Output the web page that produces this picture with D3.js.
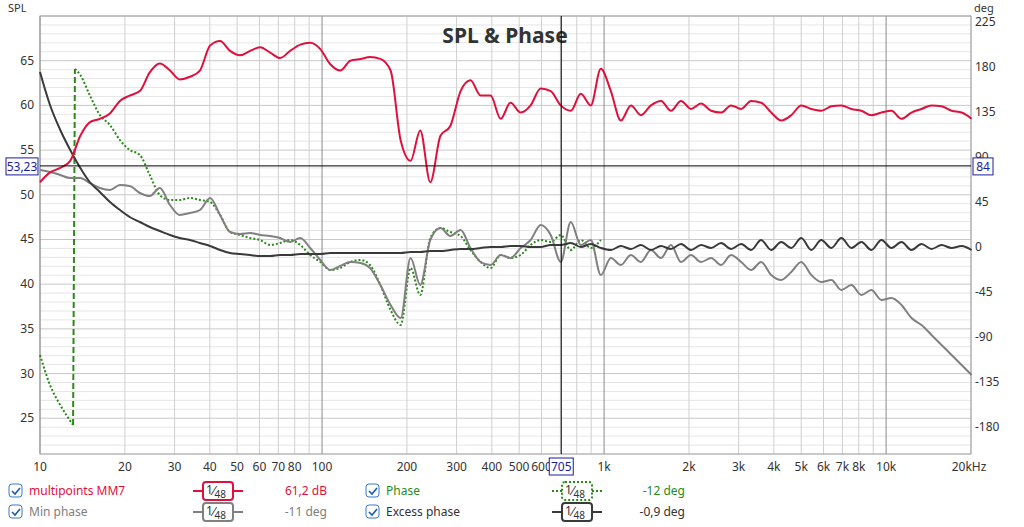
<!DOCTYPE html>
<html lang="en">
<head>
  <meta charset="UTF-8">
  <title>SPL & Phase</title>
  <style>
    body { margin: 0; background: #fff; }
    svg { font-family: "Noto Sans", "DejaVu Sans", sans-serif; }
  </style>
</head>
<body>
  <svg id="chart" width="1024" height="527"></svg>
  <script src="https://d3js.org/d3.v7.min.js"></script>
  <script>
    // Frequencies (Hz) of the sampled points
    const freqs = [10,10.85,11.8,12.8,13.9,15.0,16.3,17.7,19.2,20.8,
      22.6,24.5,26.6,28.9,31.3,34.0,36.9,40.1,43.5,47.2,
      51.2,55.6,60.3,65.5,71.0,77.1,83.7,90.8,98.6,107,
      116,126,137,148,161,175,190,206,223,242,
      263,285,310,336,365,396,430,466,506,549,
      596,647,702,762,827,897,974,1057,1147,1245,
      1351,1466,1591,1727,1874,2034,2207,2396,2600,2821,
      3062,3323,3606,3914,4247,4610,5002,5430,5892,6394,
      6940,7531,8173,8870,9626,10447,11337,12303,13352,14490,
      15725,17065,18520,20098];

    // SPL, dB (multipoints MM7)
    const spl = [51.4,52.5,53.0,53.8,56.6,58.1,58.5,59.1,60.5,61.1,
      61.6,63.7,64.7,63.9,62.9,63.2,63.9,66.7,67.2,66.1,
      65.6,66.1,66.5,65.9,65.3,66.1,66.8,67.0,66.3,64.6,
      63.9,65.0,65.2,65.4,65.2,63.9,56.1,53.8,57.2,51.4,
      56.6,57.7,61.6,62.8,61.1,61.1,58.5,60.3,59.2,60.0,
      61.9,61.6,60.0,59.4,61.3,60.0,64.1,61.6,58.3,60.0,
      58.9,60.0,60.5,59.4,60.5,59.6,60.2,59.4,59.2,60.0,
      59.6,60.5,60.3,59.2,58.3,58.9,60.0,59.6,59.4,59.9,
      60.0,59.6,59.4,58.9,59.2,59.4,58.5,59.2,59.6,60.0,
      59.9,59.4,59.2,58.5];

    // Min phase, deg
    const minPhase = [77,75,72,69,69,64,59,57,62,61,
      54,51,59,42,32,34,37,49,32,15,
      13,14,12,11,9,5,9,-1,-13,-23,
      -19,-15,-16,-21,-38,-58,-71,-11,-38,7,
      19,11,17,-1,-15,-18,-8,-11,-1,7,
      22,12,-15,25,2,7,-28,-11,-18,-8,
      -15,-3,-11,2,-15,-8,-15,-11,-18,-8,
      -15,-23,-15,-28,-33,-25,-15,-28,-35,-33,
      -43,-38,-48,-43,-53,-51,-58,-71,-78,-88,
      -98,-108,-118,-128];

    // Excess phase, deg
    const excessPhase = [175,142,117,97,79,65,55,45,37,30,
      25,20,16,12,9,7,4,1,-3,-6,
      -7,-8,-9,-9,-8,-8,-7,-7,-7,-6,
      -6,-6,-6,-6,-6,-6,-6,-5,-5,-4,
      -4,-3,-2,-2,-1,0,0,1,1,0,
      0,2,2,4,0,3,-1,-3,1,-2,
      2,-3,1,-2,3,-3,2,-1,4,-2,
      3,-3,7,-3,5,-1,9,-3,7,-1,
      9,-1,5,-3,7,-1,5,-3,3,-2,
      2,-1,1,-3];

    // Phase, deg: part below the wrap and part above it
    const phaseLowF = [10,10.85,11.8,13.1];
    const phaseLow = [-108,-138,-158,-178];
    const phaseHighF = [13.3].concat(freqs.slice(4, 57));
    const phaseHigh = [178,172,152,132,122,107,97,92,72,52,
      47,47,49,47,45,32,15,12,9,7,
      2,4,7,2,-8,-15,-23,-21,-15,-13,
      -18,-38,-63,-78,-21,-48,9,19,15,11,
      -3,-15,-21,-8,-11,-8,2,7,5,12,
      -3,7,-1,7];

    const xTicks = [10,20,30,40,50,60,70,80,100,200,300,400,500,600,1000,2000,3000,4000,5000,6000,7000,8000,10000];
    const xTickText = ["10","20","30","40","50","60","70","80","100","200","300","400","500","600","1k","2k","3k","4k","5k","6k","7k","8k","10k"];
    const splTicks = [25,30,35,40,45,50,55,60,65];
    const degTicks = [-180,-135,-90,-45,0,45,90,135,180,225];
    const cursor = { f: 705, spl: 53.23, splText: "53,23", deg: "84", fText: "705" };

    const legend = [
      { name: "multipoints MM7", color: "#e0103c", text: "#e0103c", value: "61,2 dB", dash: null, col: 0, row: 0 },
      { name: "Phase", color: "#2a8a18", text: "#2a8a18", value: "-12 deg", dash: "2,2", col: 1, row: 0 },
      { name: "Min phase", color: "#808080", text: "#808080", value: "-11 deg", dash: null, col: 0, row: 1 },
      { name: "Excess phase", color: "#3a3a3a", text: "#333", value: "-0,9 deg", dash: null, col: 1, row: 1 }
    ];

    const L = 40, R = 971, T = 16, B = 454;
    const svg = d3.select("#chart");
    const x = d3.scaleLog().domain([10, 20000]).range([L, R]);
    const y = d3.scaleLinear().domain([21, 70]).range([B, T]);
    const yd = d3.scaleLinear().domain([-180, 225]).range([427, 22]);

    // Grid
    const g = svg.append("g");
    d3.range(21, 71).forEach(v => {
      g.append("line").attr("x1", L).attr("x2", R).attr("y1", y(v)).attr("y2", y(v))
        .attr("stroke", v % 5 === 0 ? "#c8c8c8" : "#e6e6e6").attr("stroke-width", 1);
    });
    [10, 100, 1000, 10000].forEach(d => {
      d3.range(1, 10).forEach(m => {
        const f = d * m;
        if (f > 20000) return;
        g.append("line").attr("x1", x(f)).attr("x2", x(f)).attr("y1", T).attr("y2", B)
          .attr("stroke", m === 1 ? "#8a8a8a" : "#cfcfcf").attr("stroke-width", 1);
      });
    });
    g.append("rect").attr("x", L).attr("y", T).attr("width", R - L).attr("height", B - T)
      .attr("fill", "none").attr("stroke", "#a0a0a0");

    // Axis labels
    splTicks.forEach(v => {
      svg.append("text").attr("x", 34).attr("y", y(v) + 4).attr("text-anchor", "end")
        .attr("font-size", 12).attr("fill", "#333").text(v);
    });
    degTicks.forEach(v => {
      svg.append("text").attr("x", 975).attr("y", yd(v) + 4)
        .attr("font-size", 12).attr("fill", "#333").text(v);
    });
    xTicks.forEach((v, i) => {
      svg.append("text").attr("x", x(v)).attr("y", 471).attr("text-anchor", "middle")
        .attr("font-size", 12).attr("fill", "#333").text(xTickText[i]);
    });
    svg.append("text").attr("x", x(20000) - 2).attr("y", 471).attr("text-anchor", "middle")
      .attr("font-size", 12).attr("fill", "#333").text("20kHz");
    svg.append("text").attr("x", 8).attr("y", 12).attr("font-size", 11).attr("fill", "#333").text("SPL");
    svg.append("text").attr("x", 974).attr("y", 12).attr("font-size", 11).attr("fill", "#333").text("deg");
    svg.append("text").attr("x", 505).attr("y", 43).attr("text-anchor", "middle")
      .attr("font-size", 21).attr("font-weight", "bold").attr("fill", "#333").text("SPL & Phase");

    // Curves
    const lineDeg = d3.line().x(d => x(d[0])).y(d => yd(d[1])).curve(d3.curveMonotoneX);
    const lineSpl = d3.line().x(d => x(d[0])).y(d => y(d[1])).curve(d3.curveMonotoneX);
    const zip = (fs, vs) => vs.map((v, i) => [fs[i], v]);
    const plot = svg.append("g").attr("fill", "none").attr("stroke-linejoin", "round");

    plot.append("path").attr("d", lineDeg(zip(phaseLowF, phaseLow)))
      .attr("stroke", "#2a8a18").attr("stroke-width", 2).attr("stroke-dasharray", "2,2");
    plot.append("path").attr("d", lineDeg(zip(phaseHighF, phaseHigh)))
      .attr("stroke", "#2a8a18").attr("stroke-width", 2).attr("stroke-dasharray", "2,2");
    plot.append("line")
      .attr("x1", x(phaseLowF[3])).attr("y1", yd(phaseLow[3]))
      .attr("x2", x(phaseHighF[0])).attr("y2", yd(phaseHigh[0]))
      .attr("stroke", "#2a8a18").attr("stroke-width", 2).attr("stroke-dasharray", "6,3");
    plot.append("path").attr("d", lineDeg(zip(freqs, minPhase)))
      .attr("stroke", "#808080").attr("stroke-width", 2);
    plot.append("path").attr("d", lineDeg(zip(freqs, excessPhase)))
      .attr("stroke", "#3a3a3a").attr("stroke-width", 2);
    plot.append("path").attr("d", lineSpl(zip(freqs, spl)))
      .attr("stroke", "#e0103c").attr("stroke-width", 2);

    // Cursor
    const cx = x(cursor.f), cy = y(cursor.spl);
    svg.append("line").attr("x1", L).attr("x2", R).attr("y1", cy).attr("y2", cy).attr("stroke", "#000");
    svg.append("line").attr("x1", cx).attr("x2", cx).attr("y1", T).attr("y2", B).attr("stroke", "#000");
    function box(bx, by, w, txt) {
      svg.append("rect").attr("x", bx).attr("y", by).attr("width", w).attr("height", 17)
        .attr("fill", "#fff").attr("stroke", "#1a1aa0");
      svg.append("text").attr("x", bx + w / 2).attr("y", by + 13).attr("text-anchor", "middle")
        .attr("font-size", 12).attr("fill", "#1a1aa0").text(txt);
    }
    box(6, cy - 8, 32, cursor.splText);
    box(973, cy - 8, 20, cursor.deg);
    box(cx - 12, 458, 24, cursor.fText);

    // Legend
    legend.forEach(d => {
      const lx = d.col === 0 ? 8 : 365, ly = d.row === 0 ? 491 : 512;
      const ix = d.col === 0 ? 193 : 552, vx = d.col === 0 ? 327 : 685;
      svg.append("rect").attr("x", lx + 1).attr("y", ly - 7).attr("width", 13).attr("height", 13)
        .attr("rx", 3).attr("fill", "#fff").attr("stroke", "#3a78c8");
      svg.append("path").attr("d", `M${lx + 4},${ly} l3,3 l5,-6`).attr("fill", "none")
        .attr("stroke", "#1a5ab0").attr("stroke-width", 1.6);
      svg.append("text").attr("x", lx + 21).attr("y", ly + 4).attr("font-size", 12)
        .attr("fill", d.text).text(d.name);
      svg.append("line").attr("x1", ix).attr("x2", ix + 50).attr("y1", ly).attr("y2", ly)
        .attr("stroke", d.color).attr("stroke-width", 2).attr("stroke-dasharray", d.dash);
      svg.append("rect").attr("x", ix + 10).attr("y", ly - 9).attr("width", 30).attr("height", 18)
        .attr("rx", 3).attr("fill", "#fff").attr("stroke", d.color).attr("stroke-width", 2)
        .attr("stroke-dasharray", d.dash);
      const ft = svg.append("text").attr("x", ix + 13).attr("y", ly + 4).attr("fill", "#333");
      ft.append("tspan").attr("font-size", 12).attr("dy", -1).text("1");
      ft.append("tspan").attr("font-size", 13).attr("dy", 1).text("⁄");
      ft.append("tspan").attr("font-size", 10).attr("dy", 3).text("48");
      svg.append("text").attr("x", vx).attr("y", ly + 4).attr("text-anchor", "end")
        .attr("font-size", 12).attr("fill", d.text).text(d.value);
    });
  </script>
</body>
</html>
